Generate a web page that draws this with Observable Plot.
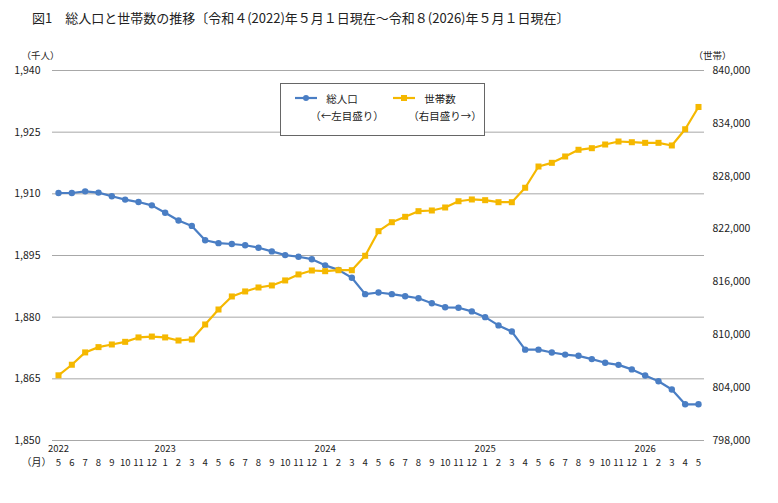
<!DOCTYPE html>
<html>
<head>
<meta charset="utf-8">
<script src="https://cdn.jsdelivr.net/npm/d3@7"></script>
<script src="https://cdn.jsdelivr.net/npm/@observablehq/plot@0.6"></script>
<style>
  body { margin: 0; background: #fff; font-family: "Noto Sans CJK JP", sans-serif; }
  #wrap { position: relative; width: 778px; height: 503px; overflow: hidden; }
  #title { position: absolute; left: 32px; top: 8px; font-size: 13px; color: #222; white-space: nowrap; }
  #chart { position: absolute; left: 0; top: 30px; }
  #legend { position: absolute; left: 280px; top: 83px; width: 205px; height: 53px;
            border: 1px solid #666; background: #fff; box-sizing: border-box; font-size: 10.5px; color: #222; }
  #legend span { position: absolute; white-space: nowrap; transform: translate(-50%, -50%); }
  #legend svg { position: absolute; }
</style>
</head>
<body>
<div id="wrap">
  <div id="title">図1　総人口と世帯数の推移〔令和４(2022)年５月１日現在～令和８(2026)年５月１日現在〕</div>
  <div id="chart"></div>
  <div id="legend"></div>
</div>
<script>
// Month labels, May 2022 through May 2026
const monthLabels = ["5","6","7","8","9","10","11","12",
  "1","2","3","4","5","6","7","8","9","10","11","12",
  "1","2","3","4","5","6","7","8","9","10","11","12",
  "1","2","3","4","5","6","7","8","9","10","11","12",
  "1","2","3","4","5"];
const years = ["2022", "2023", "2024", "2025", "2026"];

// Total population (thousand persons) — left axis
const population = [1910.2, 1910.2, 1910.6, 1910.3, 1909.4, 1908.6, 1908.0, 1907.2,
  1905.4, 1903.5, 1902.2, 1898.7, 1898.0, 1897.8, 1897.5, 1896.9, 1896.0, 1895.1, 1894.7, 1894.1,
  1892.6, 1891.5, 1889.6, 1885.6, 1886.0, 1885.6, 1885.1, 1884.6, 1883.4, 1882.4, 1882.3, 1881.4,
  1880.0, 1878.0, 1876.5, 1872.1, 1872.1, 1871.4, 1870.9, 1870.6, 1869.8, 1868.9, 1868.4, 1867.3,
  1865.8, 1864.4, 1862.4, 1858.8, 1858.8];

// Number of households — right axis
const households = [805400, 806600, 808000, 808600, 808900, 809200, 809700, 809800,
  809700, 809350, 809470, 811170, 812870, 814350, 814920, 815370, 815600, 816170, 816850, 817300,
  817220, 817330, 817330, 818970, 821760, 822780, 823390, 824030, 824110, 824450, 825160, 825360,
  825280, 825050, 825050, 826690, 829100, 829520, 830240, 831000, 831180, 831600, 831940, 831860,
  831790, 831790, 831490, 833330, 835860];

const leftTicks = [1850, 1865, 1880, 1895, 1910, 1925, 1940];
const rightTicks = [798000, 804000, 810000, 816000, 822000, 828000, 834000, 840000];

const blue = "#4a7ec4";
const gold = "#f5b800";

// The household axis spans 798,000–840,000 over the same height as 1,850–1,940
const leftDomain = [1850, 1940];
const rightDomain = [798000, 840000];
const toLeft = v => leftDomain[0] + (v - rightDomain[0]) * (leftDomain[1] - leftDomain[0]) / (rightDomain[1] - rightDomain[0]);
const toRight = y => rightDomain[0] + (y - leftDomain[0]) * (rightDomain[1] - rightDomain[0]) / (leftDomain[1] - leftDomain[0]);

// Year labels sit under May 2022 and under each January
const yearRows = [];
let yi = 0;
monthLabels.forEach((m, i) => {
  if (i === 0) yearRows.push({i, year: years[0]});
  else if (m === "1") yearRows.push({i, year: years[++yi]});
});

const fmt = d3.format(",");

const chart = Plot.plot({
  width: 778,
  height: 473,
  marginLeft: 52,
  marginRight: 74,
  marginTop: 40,
  marginBottom: 63,
  x: {domain: [-0.45, monthLabels.length - 1 + 0.45], axis: null},
  y: {domain: leftDomain, axis: null},
  style: {fontFamily: "'Noto Sans CJK JP', sans-serif", fontSize: "10px", color: "#222", background: "transparent"},
  marks: [
    Plot.gridY(leftTicks, {stroke: "#a8a8a8", strokeOpacity: 1, strokeWidth: 1}),
    Plot.axisY(leftTicks, {anchor: "left", tickSize: 0, tickPadding: 12, tickFormat: fmt, label: null, fontSize: 10.5}),
    Plot.axisY(rightTicks.map(toLeft), {anchor: "right", tickSize: 0, tickPadding: 8,
      tickFormat: y => fmt(Math.round(toRight(y) / 1000) * 1000), label: null, fontSize: 10.5}),
    Plot.text(monthLabels, {x: (d, i) => i, text: d => d, frameAnchor: "bottom", dy: 25, fontSize: 9.5}),
    Plot.text(yearRows, {x: "i", text: "year", frameAnchor: "bottom", dy: 11, fontSize: 9.5}),
    Plot.text(["（千人）"], {text: d => d, frameAnchor: "top-left", textAnchor: "middle", dx: -12, dy: -18, fontSize: 9.5}),
    Plot.text(["（世帯）"], {text: d => d, frameAnchor: "top-right", textAnchor: "middle", dx: 8, dy: -18, fontSize: 9.5}),
    Plot.text(["（月）"], {text: d => d, frameAnchor: "bottom-left", textAnchor: "middle", dx: -16, dy: 25}),
    Plot.line(population, {x: (d, i) => i, y: d => d, stroke: blue, strokeWidth: 2.2}),
    Plot.dot(population, {x: (d, i) => i, y: d => d, r: 3.2, fill: blue, symbol: "circle"}),
    Plot.line(households, {x: (d, i) => i, y: d => toLeft(d), stroke: gold, strokeWidth: 2.2}),
    Plot.dot(households, {x: (d, i) => i, y: d => toLeft(d), r: 3.4, fill: gold, symbol: "square"})
  ]
});
document.getElementById("chart").appendChild(chart);

// Legend
const legend = document.getElementById("legend");
function sample(color, shape, left) {
  const s = d3.create("svg").attr("width", 22).attr("height", 10)
    .style("left", left + "px").style("top", "9px");
  s.append("line").attr("x1", 0).attr("x2", 22).attr("y1", 5).attr("y2", 5)
    .attr("stroke", color).attr("stroke-width", 2.2);
  if (shape === "circle") s.append("circle").attr("cx", 11).attr("cy", 5).attr("r", 3).attr("fill", color);
  else s.append("rect").attr("x", 8).attr("y", 2).attr("width", 6).attr("height", 6).attr("fill", color);
  legend.appendChild(s.node());
}
function label(text, cx, cy) {
  const el = document.createElement("span");
  el.textContent = text;
  el.style.left = cx + "px";
  el.style.top = cy + "px";
  legend.appendChild(el);
}
sample(blue, "circle", 14);
label("総人口", 61, 14);
label("（←左目盛り）", 66, 31);
sample(gold, "square", 112);
label("世帯数", 159, 14);
label("（右目盛り→）", 164, 31);
</script>
</body>
</html>
